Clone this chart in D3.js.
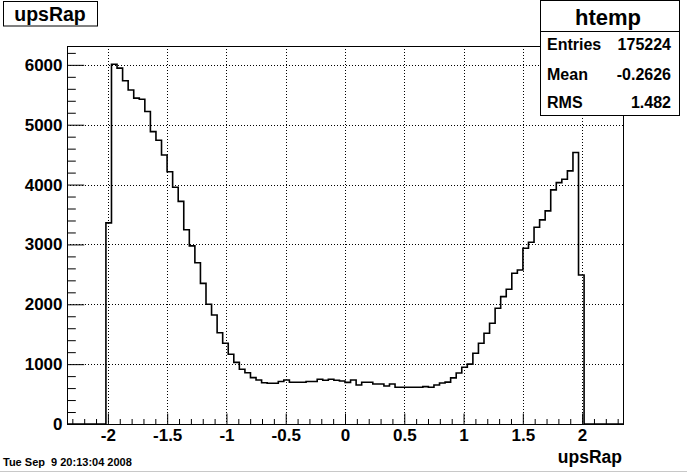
<!DOCTYPE html>
<html>
<head>
<meta charset="utf-8">
<script src="https://cdn.jsdelivr.net/npm/d3@7"></script>
<style>
  body { margin: 0; background: #fff; }
  svg { display: block; font-family: "Liberation Sans", Arial, Helvetica, sans-serif; font-weight: bold; }
</style>
</head>
<body>
<svg id="c" width="687" height="473"></svg>
<script>
// histogram settings (htemp, 100 bins)
var xMin = -2.345, xMax = 2.345;
var yMax = 6315;
var counts = [
    0, 0, 0, 0, 0, 0, 0, 3360, 6010, 5945,
    5735, 5580, 5445, 5425, 5220, 4885, 4740, 4495, 4215, 3955,
    3720, 3245, 2975, 2695, 2350, 2000, 1820, 1525, 1350, 1165,
    1030, 915, 857, 774, 735, 690, 680, 680, 710, 735,
    697, 697, 697, 710, 710, 747, 730, 747, 730, 719,
    695, 735, 652, 697, 697, 669, 669, 635, 669, 613,
    613, 613, 613, 613, 624, 613, 652, 685, 700, 770,
    852, 947, 1000, 1181, 1349, 1516, 1683, 1934, 2128, 2251,
    2518, 2574, 2936, 3037, 3288, 3410, 3560, 3911, 4033, 4090,
    4229, 4535, 2490, 0, 0, 0, 0, 0, 0, 0
];
var xMajor = [-2, -1.5, -1, -0.5, 0, 0.5, 1, 1.5, 2];
var xMinor = [-2.3, -2.2, -2.1, -1.9, -1.8, -1.7, -1.6, -1.4, -1.3, -1.2, -1.1,
    -0.9, -0.8, -0.7, -0.6, -0.4, -0.3, -0.2, -0.1, 0.1, 0.2, 0.3, 0.4,
    0.6, 0.7, 0.8, 0.9, 1.1, 1.2, 1.3, 1.4, 1.6, 1.7, 1.8, 1.9, 2.1, 2.2, 2.3];
var yMajor = [0, 1000, 2000, 3000, 4000, 5000, 6000];
var yMinor = [200, 400, 600, 800, 1200, 1400, 1600, 1800, 2200, 2400, 2600, 2800,
    3200, 3400, 3600, 3800, 4200, 4400, 4600, 4800, 5200, 5400, 5600, 5800, 6200];
var statNames = ["Entries", "Mean", "RMS"];
var statValues = ["175224", "-0.2626", "1.482"];

var svg = d3.select("#c");
var fLeft = 67, fRight = 623, fTop = 46, fBottom = 424;

var x = d3.scaleLinear().domain([xMin, xMax]).range([fLeft, fRight]);
var y = d3.scaleLinear().domain([0, yMax]).range([fBottom, fTop]);

// canvas edge
svg.append("line").attr("x1", 0).attr("x2", 687).attr("y1", 471.5).attr("y2", 471.5)
    .attr("stroke", "#c8c8c8").attr("stroke-width", 1);

// grid
var grid = svg.append("g").attr("stroke", "#000").attr("stroke-width", 1)
    .attr("stroke-dasharray", "1,2");
grid.selectAll(".gx").data(xMajor).enter().append("line")
    .attr("x1", function (d) { return Math.round(x(d)) + 0.5; })
    .attr("x2", function (d) { return Math.round(x(d)) + 0.5; })
    .attr("y1", fTop).attr("y2", fBottom);
grid.selectAll(".gy").data(yMajor.slice(1)).enter().append("line")
    .attr("y1", function (d) { return Math.round(y(d)) + 0.5; })
    .attr("y2", function (d) { return Math.round(y(d)) + 0.5; })
    .attr("x1", fLeft).attr("x2", fRight);

// histogram outline
var bw = (xMax - xMin) / counts.length;
var pts = counts.map(function (c, i) { return [xMin + i * bw, c]; });
pts.push([xMax, counts[counts.length - 1]]);
var line = d3.line()
    .x(function (d) { return x(d[0]); })
    .y(function (d) { return y(d[1]); })
    .curve(d3.curveStepAfter);
svg.append("path").datum(pts).attr("d", line)
    .attr("fill", "none").attr("stroke", "#000").attr("stroke-width", 1.6);

// frame
svg.append("rect").attr("x", fLeft + 0.5).attr("y", fTop + 0.5)
    .attr("width", fRight - fLeft).attr("height", fBottom - fTop)
    .attr("fill", "none").attr("stroke", "#000").attr("stroke-width", 1);

// axes
function styleAxis(g) {
    g.select(".domain").remove();
    g.selectAll("line").attr("stroke", "#000");
    g.selectAll("text").attr("font-size", 17).attr("font-weight", "bold").attr("fill", "#000")
        .attr("font-family", "'Liberation Sans', Arial, Helvetica, sans-serif");
}

svg.append("g").attr("transform", "translate(0," + (fBottom + 0.5) + ")")
    .call(d3.axisBottom(x).tickValues(xMinor).tickSizeInner(-5.5).tickSizeOuter(0).tickFormat(""))
    .call(styleAxis);
svg.append("g").attr("transform", "translate(0," + (fBottom + 0.5) + ")")
    .call(d3.axisBottom(x).tickValues(xMajor).tickSizeInner(-11).tickSizeOuter(0).tickPadding(4)
        .tickFormat(function (d) { return String(d); }))
    .call(styleAxis);

svg.append("g").attr("transform", "translate(" + (fLeft + 0.5) + ",0)")
    .call(d3.axisLeft(y).tickValues(yMinor).tickSizeInner(-8.3).tickSizeOuter(0).tickFormat(""))
    .call(styleAxis);
svg.append("g").attr("transform", "translate(" + (fLeft + 0.5) + ",0)")
    .call(d3.axisLeft(y).tickValues(yMajor).tickSizeInner(-16.7).tickSizeOuter(0).tickPadding(5)
        .tickFormat(function (d) { return String(d); }))
    .call(styleAxis);

// axis title
svg.append("text").attr("x", 622).attr("y", 463).attr("text-anchor", "end")
    .attr("font-size", 17.5).text("upsRap");

// histogram title box
svg.append("rect").attr("x", 3.5).attr("y", 1.5).attr("width", 94).attr("height", 24.5)
    .attr("fill", "#fff").attr("stroke", "#000");
svg.append("text").attr("x", 50).attr("y", 21).attr("text-anchor", "middle")
    .attr("font-size", 19.5).text("upsRap");

// stats box
var sb = svg.append("g");
sb.append("rect").attr("x", 540.5).attr("y", 0.5).attr("width", 139).attr("height", 115)
    .attr("fill", "#fff").attr("stroke", "#000");
sb.append("line").attr("x1", 540.5).attr("x2", 679.5).attr("y1", 31.5).attr("y2", 31.5)
    .attr("stroke", "#000");
sb.append("text").attr("x", 608).attr("y", 25).attr("text-anchor", "middle")
    .attr("font-size", 22).text("htemp");
var rowY = [50, 80, 108];
sb.selectAll(".sn").data(statNames).enter().append("text")
    .attr("x", 547).attr("y", function (d, i) { return rowY[i]; })
    .attr("font-size", 16).text(function (d) { return d; });
sb.selectAll(".sv").data(statValues).enter().append("text")
    .attr("x", 671).attr("y", function (d, i) { return rowY[i]; })
    .attr("text-anchor", "end").attr("font-size", 16).text(function (d) { return d; });

// date stamp
svg.append("text").attr("x", 3).attr("y", 466).attr("font-size", 11)
    .style("white-space", "pre")
    .text("Tue Sep  9 20:13:04 2008");
</script>
</body>
</html>
